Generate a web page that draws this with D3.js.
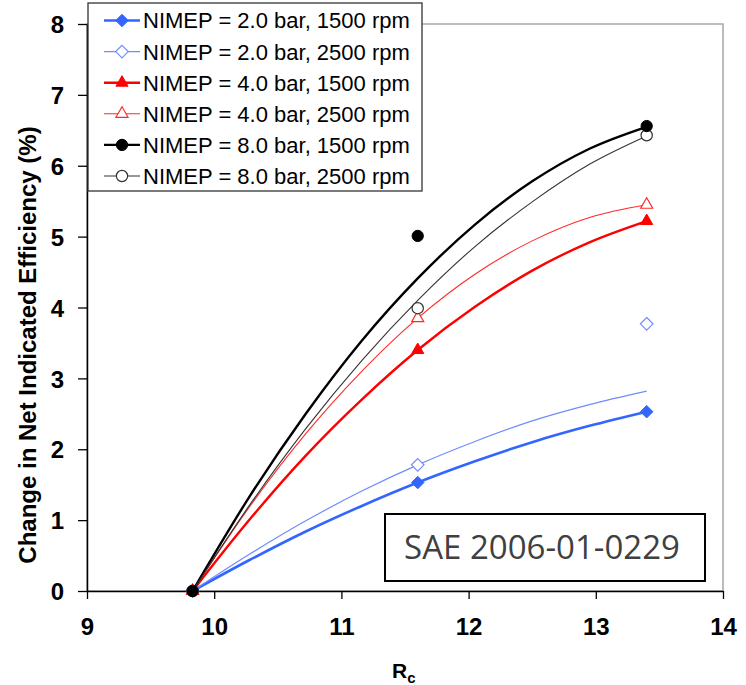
<!DOCTYPE html>
<html>
<head>
<meta charset="utf-8">
<script src="https://cdn.jsdelivr.net/npm/d3@7"></script>
<style>
  body { margin: 0; background: #fff; }
  svg { display: block; }
</style>
</head>
<body>
<svg class="chart"></svg>
<script>
// measured compression ratios and the x positions of the trend curves
const rc = [9.83, 11.6, 13.4]
const trend_rc = [9.83, 10.27, 10.72, 11.16, 11.6, 12.05, 12.5, 12.95, 13.4]

const labels = [
    "NIMEP = 2.0 bar, 1500 rpm",
    "NIMEP = 2.0 bar, 2500 rpm",
    "NIMEP = 4.0 bar, 1500 rpm",
    "NIMEP = 4.0 bar, 2500 rpm",
    "NIMEP = 8.0 bar, 1500 rpm",
    "NIMEP = 8.0 bar, 2500 rpm"
]

// change in net indicated efficiency (%)
const eff_2_1500 = [0, 1.53, 2.53]
const eff_2_2500 = [0, 1.78, 3.77]
const eff_4_1500 = [0, 3.40, 5.22]
const eff_4_2500 = [0, 3.85, 5.45]
const eff_8_1500 = [0, 5.01, 6.56]
const eff_8_2500 = [0, 3.99, 6.43]

// trend lines
const trend_2_1500 = [0, 0.43, 0.84, 1.20, 1.53, 1.83, 2.10, 2.33, 2.53]
const trend_2_2500 = [0, 0.51, 0.99, 1.41, 1.78, 2.11, 2.40, 2.63, 2.82]
const trend_4_1500 = [0, 0.99, 1.91, 2.70, 3.40, 4.01, 4.52, 4.92, 5.22]
const trend_4_2500 = [0, 1.17, 2.22, 3.10, 3.85, 4.47, 4.94, 5.27, 5.45]
const trend_8_1500 = [0, 1.31, 2.50, 3.53, 4.41, 5.17, 5.78, 6.24, 6.55]
const trend_8_2500 = [0, 1.19, 2.29, 3.25, 4.10, 4.86, 5.49, 6.02, 6.42]

const x_ticks = [9, 10, 11, 12, 13, 14]
const y_ticks = [0, 1, 2, 3, 4, 5, 6, 7, 8]

const width = 746
const height = 685
const margin = {top: 24, left: 87, right: 23, bottom: 94}

const svg = d3.select(".chart")
    .attr("width", width)
    .attr("height", height)

const series = [
    {label: labels[0], values: eff_2_1500, trend: trend_2_1500, color: "#3366ff", lw: 2.6, shape: "diamond", filled: true},
    {label: labels[1], values: eff_2_2500, trend: trend_2_2500, color: "#6f8cff", lw: 1.2, shape: "diamond", filled: false},
    {label: labels[2], values: eff_4_1500, trend: trend_4_1500, color: "#ff0000", lw: 2.4, shape: "triangle", filled: true},
    {label: labels[3], values: eff_4_2500, trend: trend_4_2500, color: "#ff2a2a", lw: 1.1, shape: "triangle", filled: false},
    {label: labels[4], values: eff_8_1500, trend: trend_8_1500, color: "#000000", lw: 2.4, shape: "circle", filled: true},
    {label: labels[5], values: eff_8_2500, trend: trend_8_2500, color: "#333333", lw: 1.1, shape: "circle", filled: false}
]

const xScale = d3.scaleLinear()
    .domain([9, 14])
    .range([margin.left, width - margin.right])

const yScale = d3.scaleLinear()
    .domain([0, 8])
    .range([height - margin.bottom, margin.top])

// plot area frame (grey top and right)
svg.append("rect")
    .attr("x", xScale(9))
    .attr("y", yScale(8))
    .attr("width", xScale(14) - xScale(9))
    .attr("height", yScale(0) - yScale(8))
    .attr("fill", "none")
    .attr("stroke", "#a6a6a6")
    .attr("stroke-width", 1.5)

// axes
const xAxis = svg.append("g")
    .attr("transform", `translate(0, ${yScale(0)})`)
    .call(d3.axisBottom(xScale).tickValues(x_ticks).tickFormat(d3.format("d"))
        .tickSize(8).tickSizeOuter(0).tickPadding(19))

const yAxis = svg.append("g")
    .attr("transform", `translate(${xScale(9)}, 0)`)
    .call(d3.axisLeft(yScale).tickValues(y_ticks).tickFormat(d3.format("d"))
        .tickSize(9).tickSizeOuter(0).tickPadding(14))

for (const ax of [xAxis, yAxis]) {
    ax.select(".domain").attr("stroke", "#000").attr("stroke-width", 1.5)
    ax.selectAll(".tick line").attr("stroke", "#000").attr("stroke-width", 1.3)
    ax.selectAll("text")
        .attr("fill", "#000")
        .style("font-family", "Liberation Sans, Arial, sans-serif")
        .style("font-weight", "bold")
        .style("font-size", "24px")
}
yAxis.selectAll("text").attr("dy", "0.36em")

// axis titles
svg.append("text")
    .attr("transform", `translate(36, 345) rotate(-90)`)
    .attr("text-anchor", "middle")
    .style("font-family", "Liberation Sans, Arial, sans-serif")
    .style("font-weight", "bold")
    .style("font-size", "24px")
    .text("Change in Net Indicated Efficiency (%)")

const xt = svg.append("text")
    .attr("x", 392)
    .attr("y", 678)
    .style("font-family", "Liberation Sans, Arial, sans-serif")
    .style("font-weight", "bold")
    .style("font-size", "21px")
xt.append("tspan").text("R")
xt.append("tspan").attr("dy", 5).style("font-size", "15px").text("c")

// symbols
function symbol_path(shape, size) {
    const type = shape === "diamond" ? d3.symbolDiamond2
        : shape === "triangle" ? d3.symbolTriangle2 : d3.symbolCircle
    return d3.symbol().type(type).size(size)()
}
const sym_size = {diamond: 100, triangle: 105, circle: 100}

function draw_marker(g, s, x, y) {
    g.append("path")
        .attr("d", symbol_path(s.shape, sym_size[s.shape]))
        .attr("transform", `translate(${x}, ${y})`)
        .attr("fill", s.filled ? s.color : "#fff")
        .attr("stroke", s.color)
        .attr("stroke-width", s.filled ? 1 : 1.2)
}

// trend curves
const line = d3.line()
    .x((d, i) => xScale(trend_rc[i]))
    .y(d => yScale(d))
    .curve(d3.curveMonotoneX)

const plot = svg.append("g")

plot.selectAll("path.trend")
    .data(series)
    .enter()
    .append("path")
    .classed("trend", true)
    .attr("d", d => line(d.trend))
    .attr("fill", "none")
    .attr("stroke", d => d.color)
    .attr("stroke-width", d => d.lw)

// data markers: open ones first so the filled ones sit on top at the origin
const marker_order = series.filter(s => !s.filled).concat(series.filter(s => s.filled))
marker_order.forEach(s => {
    s.values.forEach((v, i) => draw_marker(plot, s, xScale(rc[i]), yScale(v)))
})

// legend
const legend = svg.append("g")
legend.append("rect")
    .attr("x", 88)
    .attr("y", 3)
    .attr("width", 334)
    .attr("height", 188)
    .attr("fill", "#fff")
    .attr("stroke", "#333")
    .attr("stroke-width", 1.3)

series.forEach((s, i) => {
    const y = 20.5 + i * 31.1
    legend.append("line")
        .attr("x1", 104)
        .attr("x2", 140)
        .attr("y1", y)
        .attr("y2", y)
        .attr("stroke", s.color)
        .attr("stroke-width", s.lw)
    draw_marker(legend, s, 122, y)
    legend.append("text")
        .attr("x", 143)
        .attr("y", y)
        .attr("dy", "0.36em")
        .style("font-family", "Liberation Sans, Arial, sans-serif")
        .style("font-size", "22px")
        .attr("fill", "#000")
        .text(s.label)
})

// source note
svg.append("rect")
    .attr("x", 385)
    .attr("y", 514)
    .attr("width", 320)
    .attr("height", 67)
    .attr("fill", "#fff")
    .attr("stroke", "#000")
    .attr("stroke-width", 2)

svg.append("text")
    .attr("x", 542)
    .attr("y", 559)
    .attr("text-anchor", "middle")
    .style("font-family", "Open Sans, sans-serif")
    .style("font-size", "33px")
    .attr("fill", "#404040")
    .text("SAE 2006-01-0229")
</script>
</body>
</html>
